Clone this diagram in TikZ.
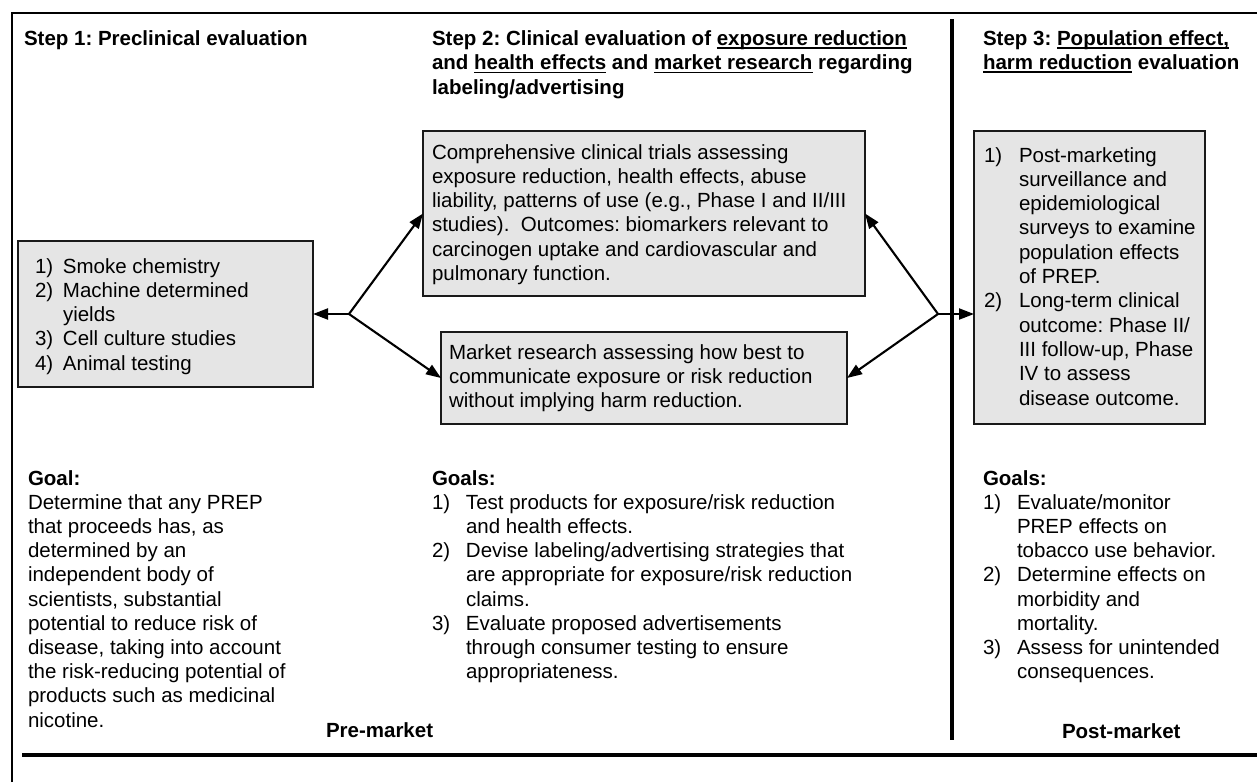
\documentclass[tikz,border=0pt]{standalone}
\usepackage{fontspec}
\setmainfont{Liberation Sans}
\usetikzlibrary{arrows.meta}
\frenchspacing
\newcommand\ulx[1]{\setbox0\hbox{#1}\rlap{\rule[-3.6pt]{\wd0}{1.7pt}}\box0\relax}
\newcommand\lns[1]{\vtop{\baselineskip=24.3pt\lineskiplimit=-100pt\lineskip=0pt\halign{##\hfil\cr#1\crcr}}}
\newcommand\gls[1]{\vtop{\baselineskip=24.2pt\lineskiplimit=-100pt\lineskip=0pt\halign{##\hfil\cr#1\crcr}}}
\newcommand\nb[2]{\hbox to #1{#2\hfil}}
\begin{document}
\begin{tikzpicture}[x=1pt,y=-1pt,
  txt/.style={inner sep=0pt,outer sep=0pt,anchor=base west,font=\fontsize{20.5}{24.3}\selectfont},
  hdr/.style={txt,font=\fontsize{20.5}{24.3}\selectfont\bfseries},
  gbox/.style={draw=black!90,line width=2.2pt,fill=black!10,inner sep=0pt,outer sep=0pt},
  arr/.style={line width=2.1pt,-{Triangle[length=15pt,width=11pt]}},
  frame/.style={line width=2.2pt},
  heavy/.style={line width=4.8pt}]
\useasboundingbox (0,0) rectangle (1257,782);
% frame
\draw[frame] (12,782) -- (12,13) -- (1257,13);
\draw[heavy] (22,755) -- (1257,755);
\draw[heavy] (952,19) -- (952,740);
% boxes
\node[gbox,minimum width=295pt,minimum height=146pt] (b1) at (165.5,314) {};
\node[gbox,minimum width=442pt,minimum height=165pt] (b2) at (644,213.5) {};
\node[gbox,minimum width=406pt,minimum height=92pt] (b3) at (644,378) {};
\node[gbox,minimum width=231pt,minimum height=293pt] (b4) at (1089.5,277.5) {};
% headers
\node[hdr] (h1) at (24,45) {Step 1: Preclinical evaluation};
\node[hdr] (h2) at (432,45.5) {\lns{Step 2: Clinical evaluation of \ulx{exposure reduction}\cr
and \ulx{health effects} and \ulx{market research} regarding\cr
labeling/advertising}};
\node[hdr] (h3) at (983,45) {\lns{Step 3: \ulx{Population effect,}\cr
\ulx{harm reduction} evaluation}};
% box texts
\node[txt] (t1) at (35,273) {\lns{\nb{28pt}{1)}Smoke chemistry\cr
\nb{28pt}{2)}Machine determined\cr
\hspace*{28pt}yields\cr
\nb{28pt}{3)}Cell culture studies\cr
\nb{28pt}{4)}Animal testing}};
\node[txt] (t2) at (432,159) {\lns{Comprehensive clinical trials assessing\cr
exposure reduction, health effects, abuse\cr
liability, patterns of use (e.g., Phase I and II/III\cr
studies).\ \ Outcomes: biomarkers relevant to\cr
carcinogen uptake and cardiovascular and\cr
pulmonary function.}};
\node[txt] (t3) at (449,359) {\lns{Market research assessing how best to\cr
communicate exposure or risk reduction\cr
without implying harm reduction.}};
\node[txt] (t4) at (984,162) {\lns{\nb{35pt}{1)}Post-marketing\cr
\hspace*{35pt}surveillance and\cr
\hspace*{35pt}epidemiological\cr
\hspace*{35pt}surveys to examine\cr
\hspace*{35pt}population effects\cr
\hspace*{35pt}of PREP.\cr
\nb{35pt}{2)}Long-term clinical\cr
\hspace*{35pt}outcome: Phase II/\cr
\hspace*{35pt}III follow-up, Phase\cr
\hspace*{35pt}IV to assess\cr
\hspace*{35pt}disease outcome.}};
% goals
\node[txt] (g1) at (28,485) {\gls{\textbf{Goal:}\cr
Determine that any PREP\cr
that proceeds has, as\cr
determined by an\cr
independent body of\cr
scientists, substantial\cr
potential to reduce risk of\cr
disease, taking into account\cr
the risk-reducing potential of\cr
products such as medicinal\cr
nicotine.}};
\node[txt] (g2) at (432,485) {\gls{\textbf{Goals:}\cr
\nb{34pt}{1)}Test products for exposure/risk reduction\cr
\hspace*{34pt}and health effects.\cr
\nb{34pt}{2)}Devise labeling/advertising strategies that\cr
\hspace*{34pt}are appropriate for exposure/risk reduction\cr
\hspace*{34pt}claims.\cr
\nb{34pt}{3)}Evaluate proposed advertisements\cr
\hspace*{34pt}through consumer testing to ensure\cr
\hspace*{34pt}appropriateness.}};
\node[txt] (g3) at (983,485) {\gls{\textbf{Goals:}\cr
\nb{34pt}{1)}Evaluate/monitor\cr
\hspace*{34pt}PREP effects on\cr
\hspace*{34pt}tobacco use behavior.\cr
\nb{34pt}{2)}Determine effects on\cr
\hspace*{34pt}morbidity and\cr
\hspace*{34pt}mortality.\cr
\nb{34pt}{3)}Assess for unintended\cr
\hspace*{34pt}consequences.}};
\node[hdr] (pre) at (326,737) {Pre-market};
\node[hdr] (post) at (1062,738) {Post-market};
% connectors
\coordinate (jl) at (349,314);
\coordinate (jr) at (938,314);
\draw[arr] (jl) -- (b1.east);
\draw[arr] (jl) -- (b2.west);
\draw[arr] (jl) -- (b3.west);
\draw[arr] (jr) -- (b2.east);
\draw[arr] (jr) -- (b3.east);
\draw[arr] (jr) -- (jr -| b4.west);
\end{tikzpicture}
\end{document}
